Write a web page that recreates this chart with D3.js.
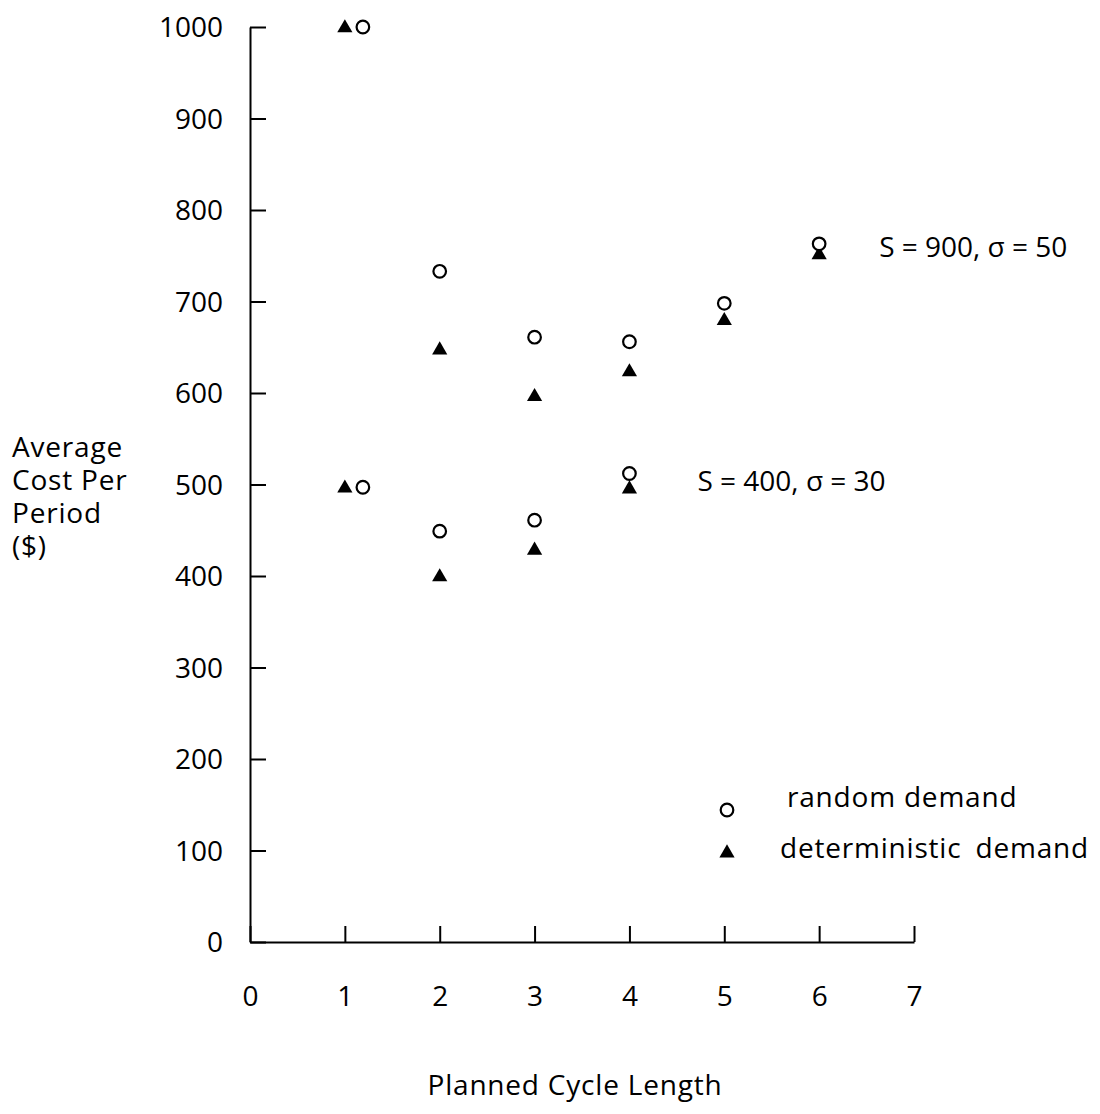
<!DOCTYPE html>
<html>
<head>
<meta charset="utf-8">
<script src="https://cdn.jsdelivr.net/npm/d3@7"></script>
<style>
  body { margin: 0; background: #fff; }
  svg { font-family: "Open Sans", "Noto Sans", sans-serif; }
  .axis path, .axis line { stroke: #000; stroke-width: 2; }
  .axis text { font-size: 28px; fill: #000; }
  .label { font-size: 28px; fill: #000; letter-spacing: 0.8px; }
  .note { font-size: 28px; fill: #000; }
</style>
</head>
<body>
<svg width="1100" height="1114"></svg>
<script>
const svg = d3.select("svg");

// x positions (the circle at cycle length 1 is drawn slightly to the right in the original)
const randomX = [1.19, 2, 3, 4, 5, 6];
const detX = [1, 2, 3, 4, 5, 6];

// S = 900, sigma = 50
const highRandom = [1000, 733, 661, 656, 698, 763];
const highDet = [999, 647, 596, 623, 679, 751];

// S = 400, sigma = 30
const lowRandomX = [1.19, 2, 3, 4];
const lowDetX = [1, 2, 3, 4];
const lowRandom = [497, 449, 461, 512];
const lowDet = [496, 399, 428, 495];

const xTicks = [0, 1, 2, 3, 4, 5, 6, 7];
const yTicks = [0, 100, 200, 300, 400, 500, 600, 700, 800, 900, 1000];

const x = d3.scaleLinear().domain([0, 7]).range([250, 914]);
const y = d3.scaleLinear().domain([0, 1000]).range([942, 27]);

// axes, ticks pointing inward
svg.append("g")
    .attr("class", "axis")
    .attr("transform", `translate(0,${y(0)})`)
    .call(d3.axisBottom(x).tickValues(xTicks).tickFormat(d3.format("d"))
        .tickSizeInner(-16).tickSizeOuter(0).tickPadding(44))
    .call(g => g.selectAll("text").attr("dy", "0.71em"));

svg.append("g")
    .attr("class", "axis")
    .attr("transform", `translate(${x(0)},0)`)
    .call(d3.axisLeft(y).tickValues(yTicks).tickFormat(d3.format("d"))
        .tickSizeInner(-16).tickSizeOuter(0).tickPadding(27))
    .call(g => g.selectAll("text").attr("dy", "0.35em"));

svg.selectAll(".axis").attr("font-family", null).attr("font-size", null);

const triangle = d3.symbol().type(d3.symbolTriangle).size(100);

function drawSeries(xs, vals, kind) {
    const pts = xs.map((d, i) => ({ x: d, v: vals[i] }));
    if (kind === "circle") {
        svg.append("g").selectAll("circle")
            .data(pts)
            .join("circle")
            .attr("cx", d => x(d.x))
            .attr("cy", d => y(d.v))
            .attr("r", 6.3)
            .attr("fill", "#fff")
            .attr("stroke", "#000")
            .attr("stroke-width", 2.2);
    } else {
        svg.append("g").selectAll("path")
            .data(pts)
            .join("path")
            .attr("d", triangle)
            .attr("transform", d => `translate(${x(d.x)},${y(d.v)})`)
            .attr("fill", "#000");
    }
}

drawSeries(detX, highDet, "triangle");
drawSeries(randomX, highRandom, "circle");
drawSeries(lowDetX, lowDet, "triangle");
drawSeries(lowRandomX, lowRandom, "circle");

// series labels next to the last point of each group
svg.append("text")
    .attr("class", "note")
    .attr("x", x(6) + 60)
    .attr("y", y(highDet[5]) + 2)
    .text("S = 900, σ = 50");

svg.append("text")
    .attr("class", "note")
    .attr("x", x(4) + 68)
    .attr("y", y(lowDet[3]) + 2)
    .text("S = 400, σ = 30");

// axis titles
const yTitle = ["Average", "Cost Per", "Period", "($)"];
svg.append("g")
    .selectAll("text")
    .data(yTitle)
    .join("text")
    .attr("class", "label")
    .attr("x", 12)
    .attr("y", (d, i) => 457 + i * 33)
    .text(d => d);

svg.append("text")
    .attr("class", "label")
    .attr("x", 575)
    .attr("y", 1095)
    .attr("text-anchor", "middle")
    .text("Planned Cycle Length");

// legend
const legend = svg.append("g").attr("transform", "translate(727,0)");
legend.append("circle")
    .attr("cx", 0).attr("cy", 810).attr("r", 6.3)
    .attr("fill", "#fff").attr("stroke", "#000").attr("stroke-width", 2.2);
legend.append("text")
    .attr("class", "label")
    .attr("x", 60).attr("y", 807)
    .text("random demand");
legend.append("path")
    .attr("d", triangle)
    .attr("transform", "translate(0,853)")
    .attr("fill", "#000");
legend.append("text")
    .attr("class", "label")
    .attr("x", 53).attr("y", 858)
    .attr("word-spacing", "6px")
    .text("deterministic demand");
</script>
</body>
</html>
